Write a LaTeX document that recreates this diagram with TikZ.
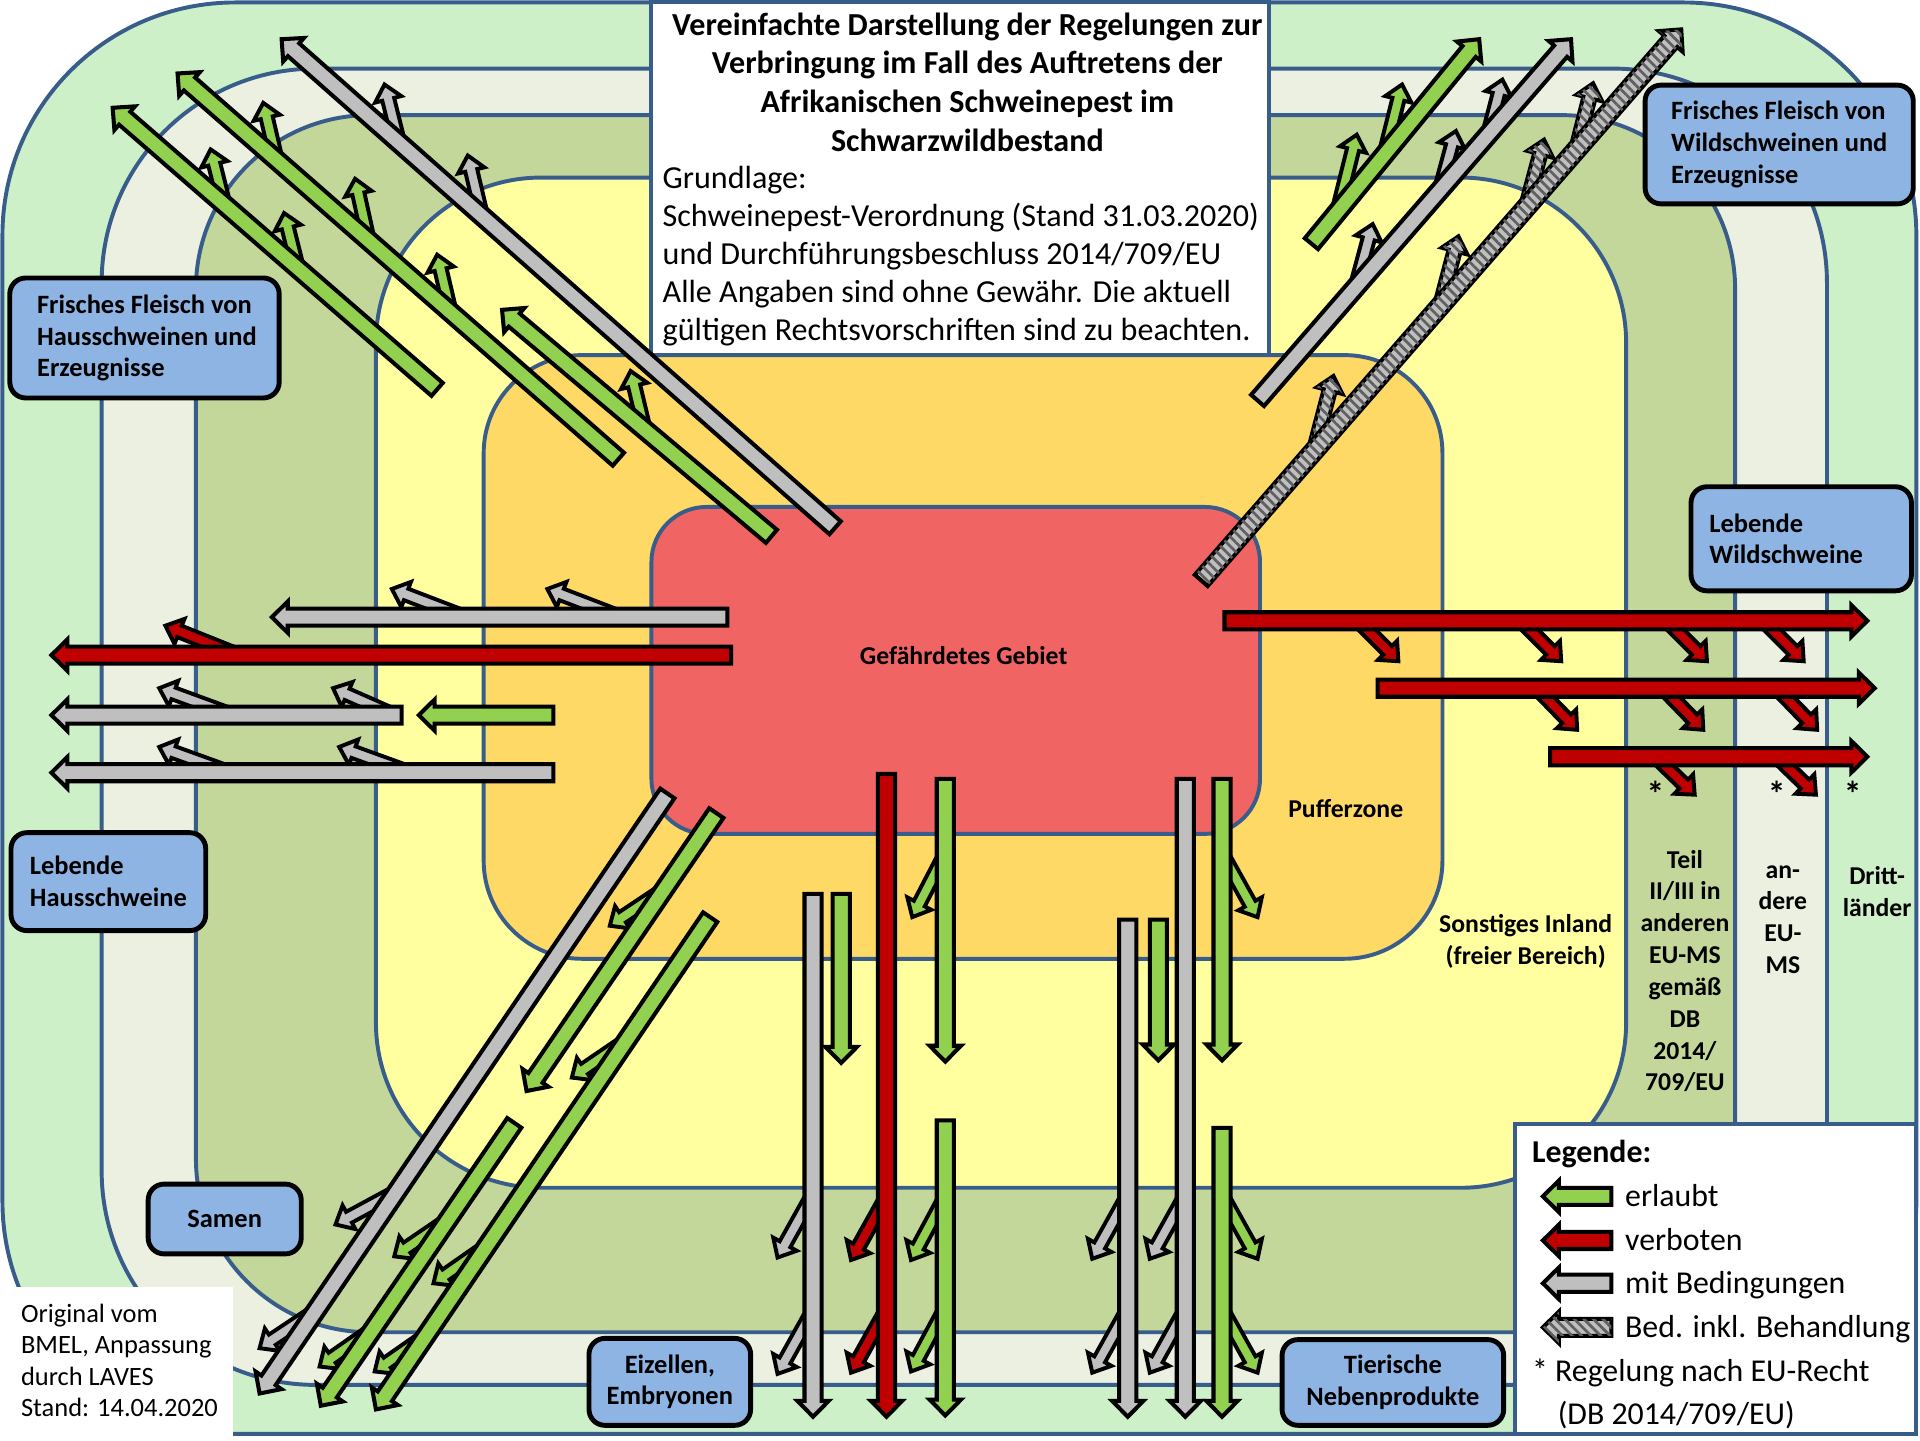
\documentclass[tikz,border=0pt]{standalone}
\usepackage{fontspec}
\setmainfont{Carlito}
\usetikzlibrary{calc,patterns.meta}
\definecolor{zA}{RGB}{205,240,200}
\definecolor{zB}{RGB}{235,240,224}
\definecolor{zC}{RGB}{196,215,155}
\definecolor{zD}{RGB}{255,255,160}
\definecolor{zE}{RGB}{255,217,102}
\definecolor{zF}{RGB}{240,100,100}
\definecolor{zline}{RGB}{56,93,138}
\definecolor{agreen}{RGB}{146,208,80}
\definecolor{ared}{RGB}{192,0,0}
\definecolor{agray}{RGB}{191,191,191}
\definecolor{hatchd}{RGB}{95,95,95}
\definecolor{lblue}{RGB}{142,180,227}
\tikzset{
  zone/.style={draw=zline, line width=3.2pt},
  arr/.style={draw=black, line width=3.3pt, line join=miter},
  garr/.style={arr, fill=agreen},
  rarr/.style={arr, fill=ared},
  sarr/.style={arr, fill=agray},
  harr/.style={arr, fill=agray, postaction={pattern={Lines[angle=-45,distance=5.5pt,line width=2.2pt]}, pattern color=hatchd}},
  lbl/.style={draw=black, line width=4pt, fill=lblue, rounded corners=13pt, inner sep=0pt, font=\bfseries\fontsize{21.6}{26}\selectfont},
  ztext/.style={font=\bfseries\fontsize{21}{26}\selectfont, align=center, inner sep=0pt},
  startext/.style={font=\bfseries\fontsize{29}{30}\selectfont, anchor=base, inner sep=0pt},
  legt/.style={font=\fontsize{26}{31}\selectfont, anchor=base west, inner sep=0pt},
}
\newcommand{\MainArr}[3]{%
  \coordinate (mT) at #2; \coordinate (mH) at #3;
  \coordinate (mM) at ($(mH)!13pt!(mT)$);
  \draw[#1] ($(mT)!7pt!90:(mH)$) -- ($(mM)!7pt!90:(mH)$) -- ($(mM)!12.8pt!90:(mH)$) -- (mH)
    -- ($(mM)!12.8pt!-90:(mH)$) -- ($(mM)!7pt!-90:(mH)$) -- ($(mT)!7pt!-90:(mH)$) -- cycle;}
\newcommand{\BrArr}[3]{%
  \coordinate (bT) at #2; \coordinate (bH) at #3;
  \coordinate (bM) at ($(bH)!12.5pt!(bT)$);
  \draw[#1, line width=3.2pt] ($(bT)!5pt!90:(bH)$) -- ($(bM)!5pt!90:(bH)$) -- ($(bM)!11pt!90:(bH)$) -- (bH)
    -- ($(bM)!11pt!-90:(bH)$) -- ($(bM)!5pt!-90:(bH)$) -- ($(bT)!5pt!-90:(bH)$) -- cycle;}
\begin{document}
\begin{tikzpicture}[x=1pt,y=-1pt]
\useasboundingbox (0,0) rectangle (1568,1176);
% zones
\draw[zone, fill=zA, rounded corners=190pt] (2,2) rectangle (1565,1171);
\draw[zone, fill=zB, rounded corners=175pt] (83,56) rectangle (1492,1131);
\draw[zone, fill=zC, rounded corners=142pt] (160,94) rectangle (1417,1088);
\draw[zone, fill=zD, rounded corners=135pt] (307,145) rectangle (1328,970);
\draw[zone, fill=zE, rounded corners=80pt] (395,290) rectangle (1178,783);
\draw[zone, fill=zF, rounded corners=45pt] (532,414) rectangle (1029,681);
% title box
\draw[zone, fill=white] (532,2) rectangle (1036,290);
\node[font=\bfseries\fontsize{26.2}{31.5}\selectfont, align=center] (title) at (790,67)
  {Vereinfachte Darstellung der Regelungen zur\\Verbringung im Fall des Auftretens der\\Afrikanischen Schweinepest im\\Schwarzwildbestand};
\node[font=\fontsize{26.2}{31}\selectfont, align=left, anchor=west, inner sep=0pt] (basis) at (541,209)
  {Grundlage:\\Schweinepest-Verordnung (Stand 31.03.2020)\\und Durchführungsbeschluss 2014/709/EU\\Alle Angaben sind ohne Gewähr. Die aktuell\\gültigen Rechtsvorschriften sind zu beachten.};
% ---------- top-left group
\BrArr{sarr}{(326,117)}{(314,69)}
\BrArr{sarr}{(393,174)}{(382,127)}
\BrArr{garr}{(526,349)}{(515,303)}
\BrArr{garr}{(226,131)}{(215,84)}
\BrArr{garr}{(301,196)}{(290,146)}
\BrArr{garr}{(368,255)}{(357,208)}
\BrArr{garr}{(183,166)}{(172,122)}
\BrArr{garr}{(243,218)}{(232,174)}
\MainArr{sarr}{(682,431)}{(230,32)}
\MainArr{garr}{(630,438)}{(410,253)}
\MainArr{garr}{(505,375)}{(145,60)}
\MainArr{garr}{(357,318)}{(92,88)}
% ---------- top-right group
\BrArr{harr}{(1287,123)}{(1301,68)}
\BrArr{harr}{(1246,170)}{(1261,114)}
\BrArr{harr}{(1176,250)}{(1191,193)}
\BrArr{harr}{(1073,368)}{(1089,307)}
\BrArr{sarr}{(1215,111)}{(1227,65)}
\BrArr{sarr}{(1176,155)}{(1189,107)}
\BrArr{sarr}{(1107,235)}{(1121,183)}
\BrArr{garr}{(1131,125)}{(1145,69)}
\BrArr{garr}{(1093,170)}{(1108,110)}
\MainArr{harr}{(981,474)}{(1373,24)}
\MainArr{sarr}{(1027,327)}{(1283,32)}
\MainArr{garr}{(1071,199)}{(1208,32)}
% ---------- left group
\BrArr{sarr}{(380,504)}{(320,481)}
\BrArr{sarr}{(507,504)}{(447,481)}
\BrArr{rarr}{(195,535)}{(135,511)}
\BrArr{sarr}{(190,584)}{(130,562)}
\BrArr{sarr}{(322,584)}{(272,562)}
\BrArr{sarr}{(188,631)}{(130,610)}
\BrArr{sarr}{(335,631)}{(277,610)}
\MainArr{sarr}{(594,504)}{(222,504)}
\MainArr{rarr}{(597,535)}{(42,535)}
\MainArr{sarr}{(328,584)}{(42,584)}
\MainArr{garr}{(452,584)}{(342,584)}
\MainArr{sarr}{(452,631)}{(42,631)}
% ---------- right group
\BrArr{rarr}{(1109,507)}{(1142,540)}
\BrArr{rarr}{(1242,507)}{(1275,540)}
\BrArr{rarr}{(1361,507)}{(1394,540)}
\BrArr{rarr}{(1440,507)}{(1473,540)}
\BrArr{rarr}{(1255,562)}{(1288,596)}
\BrArr{rarr}{(1358,562)}{(1391,596)}
\BrArr{rarr}{(1451,562)}{(1484,596)}
\BrArr{rarr}{(1352,618)}{(1384,649)}
\BrArr{rarr}{(1451,618)}{(1483,649)}
\MainArr{rarr}{(1000,507)}{(1525,507)}
\MainArr{rarr}{(1125,562)}{(1531,562)}
\MainArr{rarr}{(1266,618)}{(1525,618)}
% ---------- bottom-left group
\BrArr{sarr}{(324,973)}{(274,1000)}
\BrArr{sarr}{(257,1071)}{(212,1101)}
\BrArr{garr}{(543,726)}{(498,756)}
\BrArr{garr}{(511,850)}{(467,880)}
\BrArr{garr}{(397,1018)}{(354,1048)}
\BrArr{garr}{(349,1090)}{(306,1120)}
\BrArr{garr}{(366,996)}{(322,1026)}
\BrArr{garr}{(304,1086)}{(261,1116)}
\MainArr{sarr}{(545,648)}{(212,1138)}
\MainArr{garr}{(585,664)}{(430,891)}
\MainArr{garr}{(580,749)}{(307,1151)}
\MainArr{garr}{(420,917)}{(262,1148)}
% ---------- bottom group
\BrArr{sarr}{(664,975)}{(635,1027)}
\BrArr{sarr}{(664,1070)}{(635,1122)}
\BrArr{rarr}{(724,977)}{(695,1029)}
\BrArr{rarr}{(724,1069)}{(695,1121)}
\BrArr{garr}{(772,697)}{(745,749)}
\BrArr{garr}{(772,977)}{(744,1029)}
\BrArr{garr}{(772,1068)}{(744,1120)}
\BrArr{sarr}{(921,976)}{(892,1028)}
\BrArr{sarr}{(921,1069)}{(892,1121)}
\BrArr{sarr}{(968,976)}{(939,1028)}
\BrArr{sarr}{(968,1069)}{(939,1121)}
\BrArr{garr}{(998,697)}{(1027,749)}
\BrArr{garr}{(998,976)}{(1027,1028)}
\BrArr{garr}{(998,1069)}{(1027,1121)}
\MainArr{sarr}{(664,730)}{(664,1157)}
\MainArr{garr}{(687,730)}{(687,868)}
\MainArr{rarr}{(724,632)}{(724,1157)}
\MainArr{garr}{(772,636)}{(772,867)}
\MainArr{garr}{(772,915)}{(772,1156)}
\MainArr{sarr}{(921,751)}{(921,1157)}
\MainArr{garr}{(946,751)}{(946,866)}
\MainArr{sarr}{(968,636)}{(968,1157)}
\MainArr{garr}{(998,636)}{(998,866)}
\MainArr{garr}{(998,921)}{(998,1157)}
% ---------- label boxes
\node[lbl, minimum width=220pt, minimum height=98pt, align=left] (hfleisch) at (118,276) {\hspace*{4pt}Frisches Fleisch von\\\hspace*{4pt}Hausschweinen und\\\hspace*{4pt}Erzeugnisse};
\node[lbl, minimum width=219pt, minimum height=97pt, align=left] (wfleisch) at (1453,118) {Frisches Fleisch von\\Wildschweinen und\\Erzeugnisse};
\node[lbl, minimum width=180pt, minimum height=85pt, text width=150pt, inner xsep=15pt, align=left] (lwild) at (1471,440) {Lebende\\Wildschweine};
\node[lbl, minimum width=159pt, minimum height=80pt, align=left] (lhaus) at (88.5,720) {Lebende\\Hausschweine};
\node[lbl, minimum width=125pt, minimum height=57pt] (samen) at (183.5,995.5) {Samen};
\node[lbl, minimum width=132pt, minimum height=71pt, align=center] (eizellen) at (547,1128.5) {Eizellen,\\Embryonen};
\node[lbl, minimum width=181pt, minimum height=70pt, align=center] (tnp) at (1137.5,1129) {Tierische\\Nebenprodukte};
% ---------- zone labels
\node[ztext] (gg) at (787,535) {Gefährdetes Gebiet};
\node[ztext] (pz) at (1099,660) {Pufferzone};
\node[ztext] (si) at (1246,769) {Sonstiges Inland\\(freier Bereich)};
\node[ztext] (teil) at (1376,793) {Teil\\II/III in\\anderen\\EU-MS\\gemäß\\DB\\2014/\\709/EU};
\node[ztext] (andere) at (1456,751) {an-\\dere\\EU-\\MS};
\node[ztext] (dritt) at (1533,728) {Dritt-\\länder};
\node[startext] (st1) at (1352,659) {*};
\node[startext] (st2) at (1451,659) {*};
\node[startext] (st3) at (1513,659) {*};
% ---------- legend
\draw[zone, fill=white] (1237,918) rectangle (1565,1171);
\node[legt, font=\bfseries\fontsize{26}{31}\selectfont] (legh) at (1251,949) {Legende:};
\MainArr{garr}{(1316,977)}{(1260,977)}
\MainArr{rarr}{(1316,1013)}{(1260,1013)}
\MainArr{sarr}{(1316,1048)}{(1260,1048)}
\MainArr{harr}{(1316,1084)}{(1260,1084)}
\node[legt] (le1) at (1327,985) {erlaubt};
\node[legt] (le2) at (1327,1021) {verboten};
\node[legt] (le3) at (1327,1056) {mit Bedingungen};
\node[legt] (le4) at (1327,1092) {Bed. inkl. Behandlung};
\node[legt] (le5) at (1251,1128) {* Regelung nach EU-Recht};
\node[legt] (le6) at (1272,1163) {(DB 2014/709/EU)};
% ---------- origin note
\fill[white] (0,1051) rectangle (190,1176);
\node[font=\fontsize{21.6}{25.7}\selectfont, align=left, anchor=west, inner sep=0pt] (orig) at (17,1111)
  {Original vom\\BMEL, Anpassung\\durch LAVES\\Stand: 14.04.2020};
\end{tikzpicture}
\end{document}
